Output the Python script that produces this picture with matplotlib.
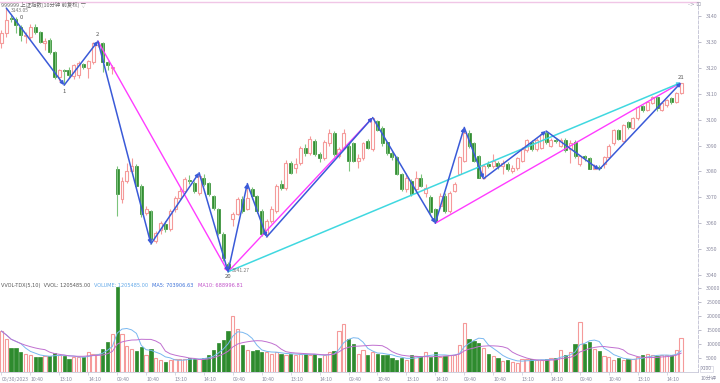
import matplotlib
matplotlib.use('Agg')
import matplotlib.pyplot as plt
from matplotlib.patches import Rectangle
import numpy as np
import pandas as pd

plt.rcParams['font.family'] = ['Noto Sans CJK SC', 'DejaVu Sans']

# ---------------- data (10-minute bars) ----------------
opens = [3129.5, 3133.4, 3139.2, 3138.8, 3135.7, 3132.2, 3131.9, 3135.7, 3133.8, 3129.6, 3130.7, 3126.0,
         3116.4, 3119.0, 3119.0, 3116.7, 3117.1, 3121.4, 3119.9, 3122.2, 3128.8, 3129.5, 3122.2, 3120.0,
         3081.1, 3069.5, 3076.4, 3080.3, 3082.2, 3074.5, 3064.0, 3064.8, 3053.2, 3057.2, 3059.8, 3057.8,
         3065.6, 3069.9, 3072.6, 3076.8, 3075.7, 3071.8, 3077.6, 3075.7, 3070.6, 3065.6, 3055.9, 3044.3,
         3061.7, 3063.6, 3069.5, 3065.6, 3073.3, 3070.6, 3064.8, 3055.9, 3060.9, 3064.8, 3075.3, 3073.7,
         3083.4, 3081.4, 3083.4, 3089.2, 3087.3, 3091.9, 3086.9, 3085.0, 3090.8, 3095.0, 3086.1, 3089.2,
         3090.0, 3090.8, 3084.2, 3085.0, 3091.9, 3088.8, 3099.5, 3096.6, 3091.2, 3087.3, 3085.4, 3079.1,
         3073.3, 3076.4, 3073.3, 3077.6, 3071.5, 3070.2, 3065.6, 3066.7, 3070.6, 3064.8, 3072.6, 3079.1,
         3084.2, 3095.0, 3090.8, 3086.1, 3077.6, 3083.0, 3082.2, 3083.4, 3082.2, 3083.0, 3080.3, 3081.4,
         3084.2, 3088.1, 3091.2, 3088.8, 3089.2, 3095.0, 3090.0, 3092.2, 3090.0, 3092.0, 3088.8, 3091.2,
         3082.9, 3085.8, 3085.0, 3081.1, 3081.8, 3083.0, 3085.4, 3090.8, 3095.8, 3091.9, 3098.9, 3096.6,
         3100.5, 3105.1, 3103.6, 3106.3, 3108.6, 3103.6, 3105.5, 3108.2, 3106.7, 3110.2]
highs = [3134.6, 3143.05, 3140.5, 3139.5, 3136.5, 3134.0, 3136.9, 3137.0, 3134.2, 3131.5, 3131.5, 3126.5,
         3119.4, 3119.5, 3120.5, 3121.5, 3122.5, 3122.0, 3123.0, 3130.0, 3130.3, 3130.0, 3122.5, 3121.2,
         3082.0, 3078.0, 3083.3, 3085.0, 3083.0, 3075.0, 3066.5, 3065.2, 3057.0, 3061.0, 3061.0, 3065.5,
         3070.5, 3073.5, 3078.0, 3078.5, 3076.4, 3079.5, 3079.0, 3076.0, 3071.0, 3066.0, 3056.5, 3045.0,
         3064.5, 3070.0, 3070.5, 3075.3, 3073.8, 3071.0, 3065.5, 3061.5, 3066.5, 3075.0, 3076.5, 3084.5,
         3084.0, 3085.0, 3090.0, 3090.5, 3093.5, 3092.5, 3087.5, 3092.0, 3096.5, 3095.5, 3089.5, 3096.5,
         3091.0, 3091.5, 3086.9, 3091.5, 3092.5, 3100.8, 3100.0, 3097.5, 3091.5, 3088.0, 3086.0, 3079.5,
         3079.5, 3077.0, 3080.0, 3079.0, 3075.0, 3071.0, 3066.0, 3071.5, 3071.5, 3072.5, 3076.0, 3086.0,
         3097.0, 3096.0, 3091.5, 3086.5, 3083.0, 3084.0, 3086.9, 3084.0, 3084.5, 3083.5, 3082.5, 3085.5,
         3089.5, 3092.5, 3092.0, 3093.0, 3094.7, 3095.6, 3093.0, 3093.0, 3093.0, 3093.0, 3092.0, 3092.0,
         3086.5, 3086.5, 3085.5, 3083.0, 3082.5, 3086.0, 3090.5, 3096.3, 3096.5, 3098.3, 3099.5, 3101.0,
         3105.2, 3105.6, 3107.2, 3109.2, 3109.0, 3106.8, 3108.0, 3108.6, 3110.6, 3114.3]
lows = [3127.6, 3132.0, 3137.5, 3133.4, 3130.5, 3129.5, 3131.0, 3133.0, 3129.5, 3127.0, 3125.5, 3115.5,
        3115.0, 3113.3, 3116.0, 3115.5, 3116.0, 3119.5, 3116.0, 3121.5, 3128.0, 3118.3, 3119.0, 3117.5,
        3062.9, 3068.0, 3075.5, 3079.5, 3074.0, 3062.5, 3063.0, 3052.0, 3052.5, 3056.0, 3056.5, 3057.0,
        3064.5, 3069.0, 3072.0, 3075.0, 3071.5, 3071.0, 3074.5, 3070.5, 3065.0, 3055.5, 3045.5, 3041.27,
        3059.0, 3063.0, 3064.0, 3065.0, 3069.5, 3064.0, 3055.0, 3054.7, 3060.0, 3064.0, 3073.0, 3073.0,
        3079.0, 3079.5, 3082.5, 3086.0, 3086.5, 3086.0, 3083.5, 3084.5, 3090.0, 3086.0, 3085.0, 3088.5,
        3080.3, 3083.5, 3081.5, 3084.5, 3088.5, 3088.0, 3095.5, 3090.0, 3086.5, 3084.5, 3078.5, 3072.5,
        3072.0, 3070.5, 3072.5, 3074.0, 3070.0, 3063.5, 3060.0, 3066.0, 3064.0, 3064.0, 3072.0, 3078.5,
        3083.5, 3089.0, 3083.5, 3077.5, 3077.2, 3081.5, 3081.5, 3081.0, 3079.1, 3080.0, 3079.5, 3080.5,
        3083.5, 3087.5, 3088.0, 3088.0, 3088.5, 3090.5, 3089.5, 3091.0, 3089.5, 3087.5, 3083.4, 3085.0,
        3082.0, 3084.0, 3080.9, 3081.0, 3080.7, 3081.5, 3085.0, 3090.3, 3092.2, 3091.5, 3096.5, 3096.2,
        3100.0, 3103.0, 3103.2, 3106.0, 3103.5, 3103.2, 3105.0, 3106.2, 3106.3, 3109.8]
closes = [3133.4, 3138.4, 3138.8, 3136.5, 3132.6, 3132.8, 3135.7, 3133.8, 3130.0, 3130.2, 3126.0, 3116.4,
          3119.0, 3118.8, 3117.1, 3121.0, 3121.8, 3120.2, 3122.6, 3129.5, 3130.0, 3122.2, 3121.0, 3120.4,
          3071.4, 3076.4, 3080.3, 3082.2, 3074.5, 3063.6, 3065.6, 3054.0, 3056.3, 3060.2, 3057.8, 3064.8,
          3069.9, 3072.6, 3077.2, 3076.2, 3072.6, 3078.4, 3075.3, 3071.4, 3066.0, 3056.3, 3046.6, 3041.9,
          3063.6, 3069.5, 3064.8, 3069.9, 3070.6, 3064.8, 3055.9, 3060.9, 3065.6, 3074.5, 3073.7, 3083.4,
          3079.5, 3083.0, 3089.2, 3087.3, 3092.7, 3086.9, 3085.0, 3091.2, 3095.0, 3086.9, 3088.8, 3095.0,
          3084.2, 3084.2, 3085.0, 3090.8, 3089.2, 3100.5, 3096.0, 3090.8, 3087.3, 3085.4, 3079.1, 3073.3,
          3077.6, 3071.4, 3077.6, 3074.5, 3073.7, 3064.4, 3060.9, 3070.6, 3064.8, 3071.8, 3075.3, 3085.4,
          3094.7, 3090.0, 3084.2, 3077.6, 3082.2, 3082.2, 3084.2, 3082.2, 3083.4, 3081.1, 3081.4, 3085.0,
          3088.8, 3092.0, 3088.8, 3092.0, 3094.3, 3091.2, 3092.0, 3091.9, 3092.0, 3088.1, 3090.8, 3085.8,
          3085.8, 3085.0, 3081.1, 3082.2, 3081.4, 3085.4, 3090.0, 3095.8, 3092.7, 3097.8, 3097.0, 3100.5,
          3104.7, 3103.6, 3106.7, 3108.6, 3104.3, 3106.3, 3107.4, 3106.7, 3110.2, 3114.0]
volumes = [14600, 11900, 8600, 8600, 7100, 6500, 6000, 5400, 5400, 5700, 5700, 6900,
           6000, 5700, 4500, 5400, 5400, 5400, 7000, 6500, 6500, 8200, 10700, 13700,
           30300, 13700, 9300, 8200, 7400, 8900, 6000, 8200, 5000, 4200, 3600, 4200,
           4500, 4500, 4500, 5000, 4800, 4500, 5000, 6200, 7700, 10500, 11300, 14500,
           20000, 15500, 9500, 7700, 7400, 7700, 7100, 7000, 6500, 7100, 6500, 6000,
           6500, 6000, 6500, 6500, 6000, 6500, 5000, 6000, 7100, 7400, 14600, 17200,
           11900, 10100, 6500, 7700, 6000, 7100, 6500, 6200, 6000, 5000, 4200, 5000,
           4200, 6000, 5700, 5700, 7000, 5400, 7000, 5400, 5700, 6000, 6200, 9500,
           17500, 11900, 11000, 10500, 8600, 6500, 5700, 5000, 3800, 4200, 3600, 3300,
           4500, 4500, 4500, 4200, 4200, 4500, 5000, 5000, 7700, 6000, 7000, 10100,
           17900, 10100, 10700, 8200, 7600, 5700, 5400, 4200, 5000, 4200, 4500, 4500,
           5400, 6000, 6500, 6000, 5700, 6000, 6000, 6000, 7700, 12000]

day_starts = [0, 24, 48, 72, 96, 120]
tick_offsets = [0, 6, 12, 18]
tick_texts = ['09:40', '10:40', '13:10', '14:10']
first_label = '05/30/2023'

zz_idx = [1, 13, 20, 31, 41, 47, 51, 55, 77, 90, 96, 100, 113, 124, 141]
zz_kind = ['H', 'L', 'H', 'L', 'H', 'L', 'H', 'L', 'H', 'L', 'H', 'L', 'H', 'L', 'H']
magenta_pairs = [(20, 47), (47, 77), (90, 141)]
cyan_pairs = [(47, 141)]

price_ticks = [3040, 3050, 3060, 3070, 3080, 3090, 3100, 3110, 3120, 3130, 3140]
vol_ticks = [5000, 10000, 15000, 20000, 25000, 30000]

vol_title = [('VVOL-TDX(5,10)  VVOL: 1205485.00', '#555555'),
             ('VOLUME: 1205485.00', '#62a8e8'),
             ('MA5: 703906.63', '#3a70d8'),
             ('MA10: 688996.81', '#c050c8')]

# ---------------- figure ----------------
W, H = 720, 383
fig = plt.figure(figsize=(W / 100, H / 100), dpi=100)
fig.patch.set_facecolor('white')

def fx(px):
    return px / W

def fy(py):
    return 1 - py / H

VB = 372
ax = fig.add_axes([0, fy(281), fx(698), fy(2) - fy(281)])
axv = fig.add_axes([0, fy(VB), fx(698), fy(281) - fy(VB)])

n = len(opens)
x = np.arange(n)
PINK = '#f59a9a'
GREEN = '#2e8b2e'
GREEN_W = '#7cc47c'
AXC = '#a0a0b4'

bw = 0.62
for i in range(n):
    o, h, l, c = opens[i], highs[i], lows[i], closes[i]
    if c >= o:
        ax.vlines(i, c, h, color=PINK, lw=0.8)
        ax.vlines(i, l, o, color=PINK, lw=0.8)
        ax.add_patch(Rectangle((i - bw / 2, o), bw, max(c - o, 0.15), facecolor='white',
                               edgecolor=PINK, lw=0.8))
    else:
        ax.vlines(i, l, h, color=GREEN_W, lw=0.8)
        ax.add_patch(Rectangle((i - bw / 2, c), bw, max(o - c, 0.15), facecolor=GREEN,
                               edgecolor=GREEN, lw=0.5))

vbw = 0.68
for i in range(n):
    if closes[i] >= opens[i]:
        axv.add_patch(Rectangle((i - vbw / 2, 0), vbw, volumes[i], facecolor='white',
                                edgecolor=PINK, lw=0.8))
    else:
        axv.add_patch(Rectangle((i - vbw / 2, 0), vbw, volumes[i], facecolor=GREEN,
                                edgecolor=GREEN, lw=0.5))

vs = pd.Series(volumes, dtype=float)
ma5 = vs.rolling(5, min_periods=1).mean()
ma10 = vs.rolling(10, min_periods=1).mean()
axv.plot(x, ma5, color='#7ab8f0', lw=0.7)
axv.plot(x, ma10, color='#c070d0', lw=0.7)

# zigzag lines
def pt(i, k):
    return (i, highs[i] if k == 'H' else lows[i])

zz_pts = [pt(i, k) for i, k in zip(zz_idx, zz_kind)]
kind_of = dict(zip(zz_idx, zz_kind))

def arrow(p0, p1, color, lw):
    ax.annotate('', xy=p1, xytext=p0,
                arrowprops=dict(arrowstyle='-|>', color=color, lw=lw, mutation_scale=5,
                                shrinkA=0, shrinkB=0))

for a, b in magenta_pairs:
    arrow(pt(a, kind_of[a]), pt(b, kind_of[b]), '#ff3cff', 1.0)
for a, b in cyan_pairs:
    arrow(pt(a, kind_of[a]), pt(b, kind_of[b]), '#40d8e0', 1.1)
for p0, p1 in zip(zz_pts[:-1], zz_pts[1:]):
    arrow(p0, p1, '#3a5ad8', 1.1)

tk = dict(fontsize=4.3, color='#555555')
ax.text(4.2, 3139.4, '0', ha='center', va='center', **tk)
ax.text(2.0, 3142.3, '3143.05', ha='left', va='center', fontsize=3.6, color='#777777')
ax.text(13, lows[13] - 1.6, '1', ha='center', va='top', **tk)
ax.text(20, highs[20] + 1.4, '2', ha='center', va='bottom', **tk)
ax.text(47, lows[47] - 1.0, '20', ha='center', va='top', **tk)
ax.text(47.8, lows[47] + 0.6, '3041.27', ha='left', va='center', fontsize=3.6, color='#777777')
ax.text(141, highs[141] + 1.0, '21', ha='center', va='bottom', **tk)

# axes setup
ax.set_xlim(-0.31, 144.5)
ax.set_ylim(3037.7, 3145.4)
axv.set_xlim(-0.31, 144.5)
axv.set_ylim(0, (VB - 281) * 357.0)

for a in (ax, axv):
    a.set_facecolor('white')
    a.spines['left'].set_visible(False)
    a.spines['right'].set_color('#c8c8d8')
    a.spines['right'].set_linestyle((0, (3, 2)))
    a.spines['right'].set_linewidth(0.7)
    a.yaxis.tick_right()
    a.tick_params(axis='y', length=2, width=0.5, color=AXC, labelsize=3.8, labelcolor='#8a8aa0', pad=4)

ax.spines['top'].set_color('#f0c6e6')
ax.spines['top'].set_linewidth(1.0)
ax.spines['bottom'].set_color('#d0d0dc')
ax.spines['bottom'].set_linestyle((0, (3, 2)))
ax.spines['bottom'].set_linewidth(0.6)
ax.set_xticks([])
ax.set_yticks(price_ticks)
ax.set_yticklabels([str(v) for v in price_ticks])

axv.spines['top'].set_visible(False)
axv.spines['bottom'].set_color('#c8c8d8')
axv.spines['bottom'].set_linewidth(0.6)
axv.set_yticks(vol_ticks)
axv.set_yticklabels([str(v) for v in vol_ticks])

xt, xl = [], []
for d in day_starts:
    for off, t in zip(tick_offsets, tick_texts):
        if d + off < n:
            xt.append(d + off)
            xl.append(first_label if (d == 0 and off == 0) else t)
axv.set_xticks(xt)
axv.set_xticklabels(xl)
for lab in axv.get_xticklabels():
    lab.set_horizontalalignment('left')
axv.tick_params(axis='x', length=2.5, width=0.5, color='#c8c8d8', labelsize=3.7,
                labelcolor='#8a8aa0', pad=0.8, direction='out')

# header texts
fig.text(fx(1), fy(4.5), '999999 上证指数(10分钟 前复权) ▽', fontsize=3.9, color='#666666',
         ha='left', va='center', family=['Noto Sans CJK SC', 'DejaVu Sans'])
fig.text(fx(688), fy(4.5), '-> ⊡', fontsize=4, color='#9a9aaa', ha='left', va='center',
         family=['DejaVu Sans'])

renderer = fig.canvas.get_renderer()
cur = 1.0
vy = fy(285.5)
for s, col in vol_title:
    t = fig.text(fx(cur), vy, s, fontsize=3.6, color=col, ha='left', va='center',
                 family=['DejaVu Sans'])
    bb = t.get_window_extent(renderer=renderer)
    cur = bb.x1 + 4

fig.text(fx(701), fy(369), 'X100', fontsize=3.5, color='#8a8aa0', ha='left', va='center',
         bbox=dict(boxstyle='square,pad=0.15', fc='white', ec='#c8c8d8', lw=0.4))
fig.text(fx(701), fy(378.5), '10分钟', fontsize=3.7, color='#8a8aa0', ha='left', va='center')

fig.savefig('out.png', dpi=100, facecolor='white')
